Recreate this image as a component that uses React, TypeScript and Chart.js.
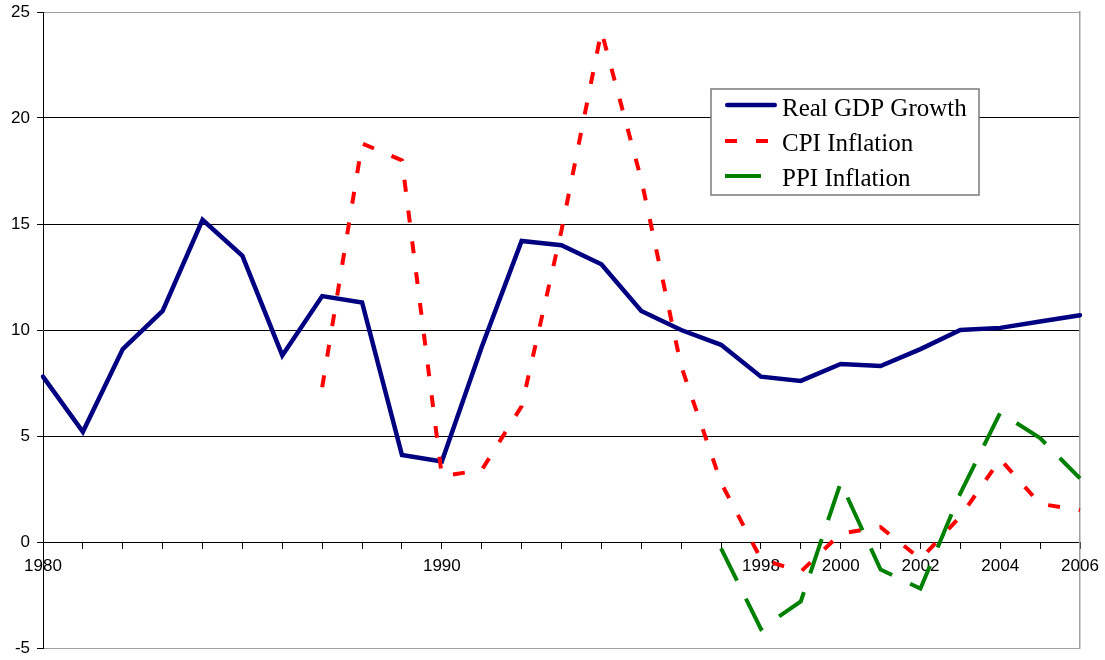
import { useEffect, useRef } from 'react';
import { Chart, registerables } from 'chart.js';

Chart.register(...registerables);

const years = [
  '1980', '1981', '1982', '1983', '1984', '1985', '1986', '1987', '1988', '1989',
  '1990', '1991', '1992', '1993', '1994', '1995', '1996', '1997', '1998', '1999',
  '2000', '2001', '2002', '2003', '2004', '2005', '2006',
];
const xTickLabels = ['1980', '1990', '1998', '2000', '2002', '2004', '2006'];
const yMin = -5;
const yMax = 25;
const yStep = 5;

const seriesNames = ['Real GDP Growth', 'CPI Inflation', 'PPI Inflation'];

const gdpGrowth = [
  7.8, 5.2, 9.1, 10.9, 15.2, 13.5, 8.8, 11.6, 11.3, 4.1,
  3.8, 9.2, 14.2, 14.0, 13.1, 10.9, 10.0, 9.3, 7.8, 7.6,
  8.4, 8.3, 9.1, 10.0, 10.1, 10.4, 10.7,
];
const cpiInflation = [
  null, null, null, null, null, null, null, 7.3, 18.8, 18.0,
  3.1, 3.4, 6.4, 14.7, 24.1, 17.1, 8.3, 2.8, -0.8, -1.4,
  0.4, 0.7, -0.8, 1.2, 3.9, 1.8, 1.5,
];
const ppiInflation = [
  null, null, null, null, null, null, null, null, null, null,
  null, null, null, null, null, null, null, -0.3, -4.1, -2.8,
  2.8, -1.3, -2.2, 2.3, 6.1, 4.9, 3.0,
];

const SANS = '"Liberation Sans", Arial, sans-serif';
const SERIF = '"Liberation Serif", "Times New Roman", serif';

const boxLegend = {
  id: 'boxLegend',
  afterDatasetsDraw(chart: any) {
    const ctx = chart.ctx;
    const bx = 711;
    const by = 89;
    const bw = 268;
    const bh = 106;
    ctx.save();
    ctx.fillStyle = '#ffffff';
    ctx.fillRect(bx, by, bw, bh);
    ctx.strokeStyle = '#7a7a7a';
    ctx.lineWidth = 1.5;
    ctx.strokeRect(bx, by, bw, bh);
    const lineY = [105, 141, 176];
    const textY = [116, 151, 186];
    const x0 = 725;
    const x1 = 777;
    chart.data.datasets.forEach((ds: any, i: number) => {
      ctx.beginPath();
      ctx.setLineDash(ds.borderDash || []);
      ctx.lineDashOffset = 0;
      ctx.lineWidth = ds.borderWidth;
      ctx.strokeStyle = ds.borderColor;
      const cap = ds.borderCapStyle || 'butt';
      ctx.lineCap = cap;
      const inset = cap === 'round' ? ds.borderWidth / 2 : 0;
      ctx.moveTo(x0 + inset, lineY[i]);
      ctx.lineTo(x1 - inset, lineY[i]);
      ctx.stroke();
      ctx.setLineDash([]);
      ctx.fillStyle = '#000000';
      ctx.font = '25px ' + SERIF;
      ctx.textBaseline = 'alphabetic';
      ctx.textAlign = 'left';
      ctx.fillText(ds.label, 782, textY[i]);
    });
    ctx.restore();
  },
};

export default function App() {
  const canvasRef = useRef<HTMLCanvasElement | null>(null);

  useEffect(() => {
    if (!canvasRef.current) return;
    const chart = new Chart(canvasRef.current, {
      type: 'line',
      data: {
        labels: years,
        datasets: [
          {
            label: seriesNames[0],
            data: gdpGrowth,
            borderColor: '#000080',
            backgroundColor: '#000080',
            borderWidth: 4.5,
            borderCapStyle: 'round',
            tension: 0,
            pointRadius: 0,
            pointHoverRadius: 0,
            fill: false,
            order: 2,
          },
          {
            label: seriesNames[1],
            data: cpiInflation,
            borderColor: '#ff0000',
            backgroundColor: '#ff0000',
            borderWidth: 4,
            borderDash: [12, 19],
            tension: 0,
            pointRadius: 0,
            pointHoverRadius: 0,
            fill: false,
            order: 1,
          },
          {
            label: seriesNames[2],
            data: ppiInflation,
            borderColor: '#008000',
            backgroundColor: '#008000',
            borderWidth: 4,
            borderDash: [36, 20],
            tension: 0,
            pointRadius: 0,
            pointHoverRadius: 0,
            fill: false,
            order: 0,
          },
        ],
      } as any,
      options: {
        animation: false,
        responsive: false,
        maintainAspectRatio: false,
        events: [],
        layout: { padding: { left: 0, top: 12, right: 25, bottom: 12 } },
        plugins: {
          legend: { display: false },
          tooltip: { enabled: false },
          title: { display: false },
        },
        scales: {
          x: {
            type: 'category',
            position: { y: 0 } as any,
            offset: false,
            ticks: {
              autoSkip: false,
              maxRotation: 0,
              minRotation: 0,
              color: '#000000',
              padding: 8,
              font: { family: SANS, size: 17 },
              callback: (_v: any, i: number) => {
                const l = years[i];
                return xTickLabels.includes(l) ? l : '';
              },
            },
            grid: {
              drawOnChartArea: false,
              drawTicks: true,
              tickLength: 6,
              color: '#000000',
              lineWidth: 1,
            },
            border: { display: true, color: '#000000', width: 1 },
            afterFit: (s: any) => {
              s.paddingLeft = 0;
              s.paddingRight = 0;
            },
          },
          y: {
            type: 'linear',
            position: 'left',
            min: yMin,
            max: yMax,
            ticks: {
              stepSize: yStep,
              color: '#000000',
              padding: 7,
              font: { family: SANS, size: 17 },
            },
            grid: {
              color: (c: any) =>
                c.tick && (c.tick.value === yMax || c.tick.value === yMin) ? '#a0a0a0' : '#000000',
              tickColor: '#000000',
              tickLength: 6,
              lineWidth: 1,
            },
            border: { display: true, color: '#000000', width: 1 },
            afterFit: (s: any) => {
              s.width = 43;
              s.paddingTop = 0;
              s.paddingBottom = 0;
            },
          },
          y2: {
            type: 'linear',
            position: 'right',
            min: yMin,
            max: yMax,
            ticks: { display: false },
            grid: { display: false },
            border: { display: true, color: '#a0a0a0', width: 1.5 },
            afterFit: (s: any) => {
              s.width = 0;
              s.paddingTop = 0;
              s.paddingBottom = 0;
            },
          },
        },
      } as any,
      plugins: [boxLegend],
    });
    return () => {
      chart.destroy();
    };
  }, []);

  return (
    <div style={{ position: 'fixed', left: 0, top: 0, width: 1105, height: 660, background: '#ffffff' }}>
      <canvas ref={canvasRef} width={1105} height={660} style={{ width: 1105, height: 660, display: 'block' }} />
    </div>
  );
}
